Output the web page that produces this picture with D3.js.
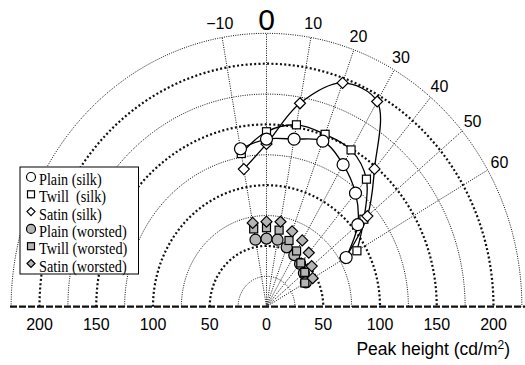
<!DOCTYPE html>
<html><head><meta charset="utf-8">
<script src="https://cdn.jsdelivr.net/npm/d3@7"></script>
<style>
html,body{margin:0;padding:0;background:#fff;}
svg{display:block;}
</style></head>
<body>
<script>
// ---- data ----
const angles = [-10, 0, 10, 20, 30, 40, 50, 60];
const plainSilk = [132, 138, 140, 145, 135, 122, 105, 81];
const twillSilk = [128, 144, 152, 151, 149, 137, 112, 92];
const satinSilk = [115, 134, 170, 196, 195, 148, 116, 80];
const plainWorsted = [56, 56, 56, 52, 49, 46, 43, 40];
const twillWorsted = [65, 65, 64, 58, 53, 47, 44, 39];
const satinWorsted = [70, 70, 71, 66, 63, 58, 52, 47];
const rings = [25, 50, 75, 100, 125, 150, 175, 200, 225];
const spokeAngles = [-10, 0, 10, 20, 30, 40, 50, 60];
const xTicks = [-200, -150, -100, -50, 0, 50, 100, 150, 200];
const seriesNames = ["Plain (silk)", "Twill\u00a0\u00a0(silk)", "Satin (silk)", "Plain (worsted)", "Twill (worsted)", "Satin (worsted)"];
const xTitle = "Peak height (cd/m";

const W = 525, H = 365;
const cx = 266.5, cy = 306.7;
const svg = d3.select("body").append("svg").attr("width", W).attr("height", H);

const xScale = d3.scaleLinear().domain([-200, 200]).range([cx - 227, cx + 227]);
const yScale = d3.scaleLinear().domain([0, 200]).range([cy, cy - 243]);
function proj(angle, r) {
  const a = angle * Math.PI / 180;
  return [xScale(r * Math.sin(a)), yScale(r * Math.cos(a))];
}

// ---- grid rings ----
const arcAngles = d3.range(-90, 90.01, 1);
const ringLine = d3.line();
svg.append("g").selectAll("path").data(rings).join("path")
  .attr("d", r => ringLine(arcAngles.map(a => proj(a, r))))
  .attr("fill", "none")
  .attr("stroke", "#111")
  .attr("stroke-width", r => r % 50 === 0 ? 2.2 : 1)
  .attr("stroke-dasharray", r => r % 50 === 0 ? "2,2.3" : "1,1.3");

// ---- spokes ----
svg.append("g").selectAll("line").data(spokeAngles).join("line")
  .attr("x1", cx).attr("y1", cy)
  .attr("x2", a => proj(a, 225)[0]).attr("y2", a => proj(a, 225)[1])
  .attr("stroke", "#111").attr("stroke-width", 1).attr("stroke-dasharray", "1,1.3");

// ---- baseline ----
svg.append("line").attr("x1", 10).attr("x2", 525).attr("y1", cy).attr("y2", cy)
  .attr("stroke", "#111").attr("stroke-width", 2.2).attr("stroke-dasharray", "7,2");

// ---- angle labels ----
svg.append("g").selectAll("text").data(spokeAngles).join("text")
  .attr("x", a => proj(a, 237)[0]).attr("y", a => proj(a, 237)[1] + (a === 0 ? 1 : 0))
  .attr("text-anchor", "middle").attr("dominant-baseline", "central")
  .attr("font-family", "Liberation Sans, Arial, sans-serif")
  .attr("font-size", a => a === 0 ? 30 : 16)
  .text(a => a < 0 ? "\u2212" + Math.abs(a) : String(a));

// ---- x tick labels ----
svg.append("g").selectAll("text").data(xTicks).join("text")
  .attr("x", d => xScale(d)).attr("y", 330)
  .attr("text-anchor", "middle")
  .attr("font-family", "Liberation Sans, Arial, sans-serif").attr("font-size", 16)
  .text(d => String(Math.abs(d)));

const tt = svg.append("text").attr("x", 510).attr("y", 355).attr("text-anchor", "end")
  .attr("font-family", "Liberation Sans, Arial, sans-serif").attr("font-size", 17.5);
tt.append("tspan").text(xTitle);
tt.append("tspan").attr("font-size", 12).attr("dy", -6).text("2");
tt.append("tspan").attr("dy", 6).text(")");

// ---- curves ----
const curve = d3.line().curve(d3.curveCatmullRom.alpha(0.5));
[twillSilk, satinSilk, plainSilk].forEach(vals => {
  svg.append("path")
    .attr("d", curve(angles.map((a, i) => proj(a, vals[i]))))
    .attr("fill", "none").attr("stroke", "#000").attr("stroke-width", 1.3);
});

// ---- markers ----
function marker(g, type, x, y, size, fill) {
  let el;
  if (type === "circle") {
    el = g.append("circle").attr("cx", x).attr("cy", y).attr("r", size / 2);
  } else if (type === "square") {
    el = g.append("rect").attr("x", x - size / 2).attr("y", y - size / 2).attr("width", size).attr("height", size);
  } else {
    const h = size / 2;
    el = g.append("path").attr("d", `M${x},${y - h}L${x + h},${y}L${x},${y + h}L${x - h},${y}Z`);
  }
  el.attr("fill", fill).attr("stroke", "#000").attr("stroke-width", 1.2);
}
const grey = "#b5b5b5";
const mg = svg.append("g");
const series = [
  {vals: plainWorsted, type: "circle", size: 11, fill: grey},
  {vals: twillWorsted, type: "square", size: 8, fill: grey},
  {vals: satinWorsted, type: "diamond", size: 11, fill: grey},
  {vals: twillSilk, type: "square", size: 8, fill: "#fff"},
  {vals: satinSilk, type: "diamond", size: 11, fill: "#fff"},
  {vals: plainSilk, type: "circle", size: 12, fill: "#fff"}
];
series.forEach(s => {
  angles.forEach((a, i) => {
    const p = proj(a, s.vals[i]);
    marker(mg, s.type, p[0], p[1], s.size, s.fill);
  });
});

// ---- legend ----
const lg = svg.append("g");
lg.append("rect").attr("x", 20).attr("y", 167).attr("width", 118.5).attr("height", 107)
  .attr("fill", "#fff").attr("stroke", "#000").attr("stroke-width", 1);
const legendItems = [
  {type: "circle", fill: "#fff", size: 9},
  {type: "square", fill: "#fff", size: 7},
  {type: "diamond", fill: "#fff", size: 8},
  {type: "circle", fill: grey, size: 9},
  {type: "square", fill: grey, size: 7},
  {type: "diamond", fill: grey, size: 8}
];
const widths = [62.7, 67, 62.7, 87.7, 88.3, 87.7];
legendItems.forEach((it, i) => {
  const base = 185 + i * 17.3;
  marker(lg, it.type, 31, base - 8, it.size, it.fill);
  lg.append("text").attr("x", 39).attr("y", base)
    .attr("font-family", "Liberation Serif, Times New Roman, serif").attr("font-size", 16.5)
    .attr("textLength", widths[i]).attr("lengthAdjust", "spacingAndGlyphs")
    .text(seriesNames[i]);
});
</script>
</body></html>
